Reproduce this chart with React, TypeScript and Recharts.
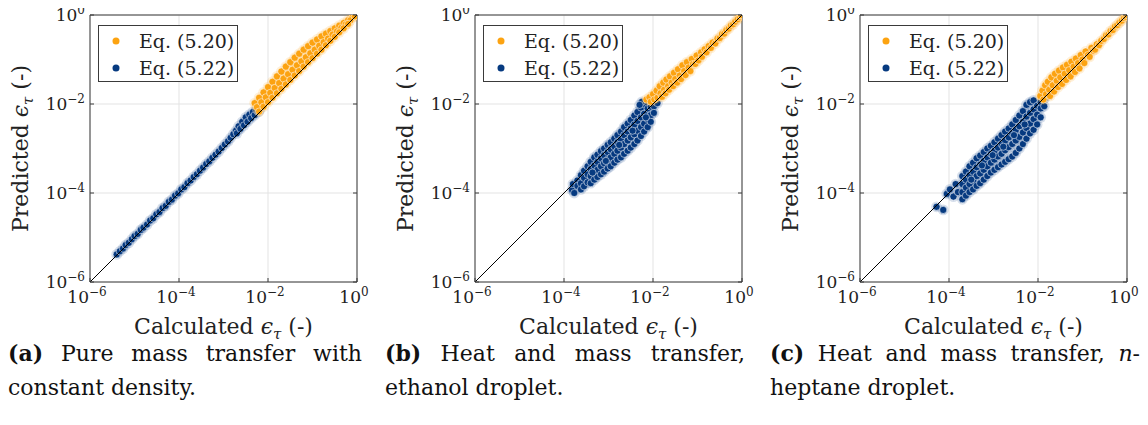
import { ScatterChart, Scatter, XAxis, YAxis, CartesianGrid, Legend } from "recharts"

const FONT = "'DejaVu Serif', serif"
const ORANGE = "#FCA311"
const NAVY = "#063A80"
const FRAME = "#3a3a3a"
const GRID = "#e3e3e3"

const decades = [1e-6, 1e-4, 1e-2, 1]
const tickExponents = ["\u22126", "\u22124", "\u22122", "0"]
const seriesNames = ["Eq. (5.20)", "Eq. (5.22)"]
const parity = [[-6, -6], [0, 0]]

// points are [log10 calculated, log10 predicted]

// (a) pure mass transfer
const massNavy = [
  [-5.40, -5.38], [-5.33, -5.31], [-5.26, -5.25], [-5.20, -5.17], [-5.13, -5.12], [-5.06, -5.04],
  [-5.00, -4.97], [-4.93, -4.92], [-4.86, -4.83], [-4.80, -4.78], [-4.72, -4.71], [-4.65, -4.62],
  [-4.58, -4.57], [-4.51, -4.48], [-4.44, -4.43], [-4.37, -4.34], [-4.30, -4.29], [-4.23, -4.20],
  [-4.16, -4.15], [-4.09, -4.06], [-4.02, -4.01], [-3.95, -3.92], [-3.88, -3.87], [-3.81, -3.78],
  [-3.74, -3.72], [-3.67, -3.64], [-3.60, -3.58], [-3.53, -3.50], [-3.46, -3.43], [-3.39, -3.35],
  [-3.32, -3.29], [-3.25, -3.21], [-3.18, -3.14], [-3.11, -3.07], [-3.04, -2.99], [-2.97, -2.91],
  [-2.90, -2.84], [-2.84, -2.76], [-2.78, -2.68], [-2.72, -2.60], [-2.70, -2.66], [-2.66, -2.50],
  [-2.62, -2.56], [-2.58, -2.40], [-2.54, -2.48], [-2.50, -2.30], [-2.46, -2.40], [-2.42, -2.24],
  [-2.38, -2.32], [-2.34, -2.18], [-2.30, -2.25], [-2.26, -2.14], [-2.22, -2.18], [-2.18, -2.12],
]
const massOrange = [
  [-2.30, -1.98], [-2.20, -1.86], [-2.10, -1.74], [-2.00, -1.62], [-1.90, -1.50], [-1.80, -1.38],
  [-1.70, -1.27], [-1.60, -1.16], [-1.50, -1.06], [-1.40, -0.96], [-1.30, -0.87], [-1.20, -0.78],
  [-1.10, -0.70], [-1.00, -0.62], [-0.90, -0.55], [-0.80, -0.48], [-0.70, -0.42], [-0.60, -0.36],
  [-0.50, -0.30], [-0.40, -0.24], [-0.30, -0.18], [-0.20, -0.12], [-0.10, -0.05], [0, 0],
  [-2.25, -2.07], [-2.15, -1.96], [-2.05, -1.85], [-1.95, -1.75], [-1.85, -1.64], [-1.75, -1.53],
  [-1.65, -1.43], [-1.55, -1.33], [-1.45, -1.23], [-1.35, -1.13], [-1.25, -1.04], [-1.15, -0.95],
  [-1.05, -0.86], [-0.95, -0.78], [-0.85, -0.69], [-0.75, -0.61], [-0.65, -0.53], [-0.55, -0.44],
  [-0.45, -0.37], [-0.35, -0.29], [-0.25, -0.21], [-0.15, -0.12], [-0.05, -0.03],
  [-2.20, -2.17], [-2.10, -2.06], [-2.00, -1.96], [-1.90, -1.86], [-1.80, -1.76], [-1.70, -1.66],
  [-1.60, -1.56], [-1.50, -1.46], [-1.40, -1.36], [-1.30, -1.26], [-1.20, -1.16], [-1.10, -1.06],
  [-1.00, -0.97], [-0.90, -0.87], [-0.80, -0.78], [-0.70, -0.68], [-0.60, -0.58], [-0.50, -0.49],
  [-0.40, -0.39], [-0.30, -0.30], [-0.20, -0.20],
]

// (b) ethanol droplet
const ethanolNavy = [
  [-3.82, -3.93], [-3.77, -4.00], [-3.80, -3.80], [-3.70, -3.72], [-3.70, -3.84],
  [-3.62, -3.60], [-3.62, -3.78], [-3.62, -3.92], [-3.55, -3.50], [-3.55, -3.66], [-3.55, -3.85],
  [-3.47, -3.40], [-3.47, -3.58], [-3.47, -3.76], [-3.40, -3.30], [-3.40, -3.46], [-3.40, -3.62], [-3.40, -3.78],
  [-3.32, -3.20], [-3.32, -3.38], [-3.32, -3.55], [-3.32, -3.70], [-3.25, -3.14], [-3.25, -3.30], [-3.25, -3.48], [-3.25, -3.64],
  [-3.17, -3.06], [-3.17, -3.22], [-3.17, -3.40], [-3.17, -3.58], [-3.10, -3.00], [-3.10, -3.15], [-3.10, -3.33], [-3.10, -3.52],
  [-3.02, -2.92], [-3.02, -3.08], [-3.02, -3.25], [-3.02, -3.45], [-2.95, -2.86], [-2.95, -3.02], [-2.95, -3.20], [-2.95, -3.40],
  [-2.87, -2.78], [-2.87, -2.95], [-2.87, -3.12], [-2.87, -3.32], [-2.80, -2.70], [-2.80, -2.86], [-2.80, -3.05], [-2.80, -3.25],
  [-2.72, -2.62], [-2.72, -2.80], [-2.72, -2.98], [-2.72, -3.20], [-2.65, -2.52], [-2.65, -2.70], [-2.65, -2.90], [-2.65, -3.12],
  [-2.57, -2.44], [-2.57, -2.62], [-2.57, -2.82], [-2.57, -3.05], [-2.50, -2.36], [-2.50, -2.55], [-2.50, -2.75], [-2.50, -2.98],
  [-2.42, -2.26], [-2.42, -2.46], [-2.42, -2.68], [-2.42, -2.90], [-2.35, -2.18], [-2.35, -2.38], [-2.35, -2.60], [-2.35, -2.82],
  [-2.27, -2.08], [-2.27, -2.30], [-2.27, -2.52], [-2.27, -2.72], [-2.20, -2.00], [-2.20, -2.22], [-2.20, -2.44], [-2.20, -2.62],
  [-2.12, -2.10], [-2.12, -2.34], [-2.12, -2.52], [-2.05, -2.06], [-2.05, -2.25], [-2.05, -2.40],
  [-1.98, -2.05], [-1.98, -2.20], [-1.90, -1.98], [-2.25, -1.95], [-2.30, -2.02],
  [-3.36, -3.54], [-3.06, -3.28], [-2.76, -2.92], [-2.46, -2.60], [-2.16, -2.30],
]
const ethanolOrange = [
  [-2.15, -1.90], [-2.08, -1.85], [-2.05, -1.95], [-2.00, -1.78], [-1.97, -1.90], [-1.92, -1.70],
  [-1.90, -1.86], [-1.85, -1.60], [-1.83, -1.76], [-1.80, -1.84], [-1.77, -1.52], [-1.75, -1.68],
  [-1.72, -1.76], [-1.70, -1.45], [-1.66, -1.60], [-1.64, -1.68], [-1.62, -1.38], [-1.58, -1.52],
  [-1.55, -1.60], [-1.53, -1.30], [-1.50, -1.44], [-1.46, -1.52], [-1.44, -1.22], [-1.40, -1.36],
  [-1.37, -1.44], [-1.34, -1.13], [-1.30, -1.26], [-1.27, -1.35], [-1.24, -1.06], [-1.20, -1.18],
  [-1.16, -1.26], [-1.13, -0.99], [-1.10, -1.10], [-1.05, -1.10], [-1.02, -0.91], [-0.98, -1.02],
  [-0.92, -0.84], [-0.90, -0.94], [-0.84, -0.77], [-0.80, -0.84], [-0.75, -0.70], [-0.70, -0.74],
  [-0.66, -0.62], [-0.60, -0.64], [-0.55, -0.53], [-0.50, -0.52], [-0.45, -0.43], [-0.40, -0.42],
  [-0.35, -0.34], [-0.30, -0.31], [-0.25, -0.24], [-0.20, -0.21], [-0.15, -0.15], [-0.10, -0.10],
  [-0.05, -0.05], [0, -0.02], [-0.02, 0],
]

// (c) n-heptane droplet
const heptaneNavy = [
  [-4.28, -4.31], [-4.13, -4.38], [-4.05, -4.02], [-3.98, -3.92], [-3.90, -4.08], [-3.85, -3.80], [-3.80, -3.98],
  [-3.70, -3.62], [-3.70, -3.80], [-3.70, -3.98], [-3.70, -4.14], [-3.62, -3.52], [-3.62, -3.70], [-3.62, -3.88], [-3.62, -4.06],
  [-3.54, -3.40], [-3.54, -3.60], [-3.54, -3.80], [-3.54, -3.98], [-3.46, -3.32], [-3.46, -3.52], [-3.46, -3.72], [-3.46, -3.92],
  [-3.38, -3.22], [-3.38, -3.42], [-3.38, -3.62], [-3.38, -3.84], [-3.30, -3.16], [-3.30, -3.36], [-3.30, -3.56], [-3.30, -3.78],
  [-3.22, -3.08], [-3.22, -3.28], [-3.22, -3.48], [-3.22, -3.70], [-3.14, -3.00], [-3.14, -3.20], [-3.14, -3.40], [-3.14, -3.62],
  [-3.06, -2.94], [-3.06, -3.12], [-3.06, -3.32], [-3.06, -3.54], [-2.98, -2.86], [-2.98, -3.05], [-2.98, -3.25], [-2.98, -3.48],
  [-2.90, -2.78], [-2.90, -2.98], [-2.90, -3.18], [-2.90, -3.42], [-2.82, -2.70], [-2.82, -2.90], [-2.82, -3.12], [-2.82, -3.36],
  [-2.74, -2.62], [-2.74, -2.82], [-2.74, -3.04], [-2.74, -3.30], [-2.66, -2.55], [-2.66, -2.75], [-2.66, -2.97], [-2.66, -3.24],
  [-2.58, -2.46], [-2.58, -2.66], [-2.58, -2.90], [-2.58, -3.18], [-2.50, -2.36], [-2.50, -2.58], [-2.50, -2.82], [-2.50, -3.10],
  [-2.42, -2.26], [-2.42, -2.50], [-2.42, -2.74], [-2.42, -3.00], [-2.34, -2.16], [-2.34, -2.40], [-2.34, -2.64], [-2.34, -2.90],
  [-2.26, -2.02], [-2.26, -2.28], [-2.26, -2.54], [-2.26, -2.78], [-2.18, -1.96], [-2.18, -2.20], [-2.18, -2.44], [-2.18, -2.66],
  [-2.10, -1.92], [-2.10, -2.12], [-2.10, -2.34], [-2.10, -2.58], [-2.02, -2.04], [-2.02, -2.24], [-2.02, -2.46],
  [-1.94, -1.96], [-1.94, -2.10], [-1.94, -2.30], [-1.86, -1.88], [-1.86, -2.05], [-1.78, -1.80],
  [-3.50, -3.70], [-3.26, -3.38], [-3.02, -3.15], [-2.78, -2.96], [-2.54, -2.70], [-2.30, -2.46],
]
const heptaneOrange = [
  [-1.95, -1.82], [-1.90, -1.70], [-1.88, -1.90], [-1.84, -1.58], [-1.82, -1.78], [-1.78, -1.50],
  [-1.75, -1.68], [-1.73, -1.82], [-1.70, -1.40], [-1.67, -1.58], [-1.64, -1.72], [-1.62, -1.32],
  [-1.58, -1.48], [-1.55, -1.62], [-1.53, -1.25], [-1.50, -1.40], [-1.46, -1.55], [-1.44, -1.18],
  [-1.40, -1.32], [-1.37, -1.46], [-1.35, -1.12], [-1.30, -1.24], [-1.27, -1.38], [-1.25, -1.05],
  [-1.20, -1.16], [-1.17, -1.28], [-1.15, -0.98], [-1.10, -1.08], [-1.07, -1.20], [-1.04, -0.90],
  [-1.00, -1.00], [-0.96, -1.08], [-0.93, -0.82], [-0.88, -0.90], [-0.84, -0.94], [-0.80, -0.74],
  [-0.76, -0.80], [-0.72, -0.78], [-0.68, -0.66], [-0.63, -0.68], [-0.58, -0.58], [-0.52, -0.54],
  [-0.47, -0.46], [-0.42, -0.44], [-0.37, -0.36], [-0.32, -0.34], [-0.27, -0.26], [-0.22, -0.23],
  [-0.17, -0.17], [-0.12, -0.13], [-0.07, -0.07], [-0.03, -0.04], [0, 0],
]

const toPoints = (pts: number[][]) => pts.map(([lx, ly]) => ({ x: 10 ** lx, y: 10 ** ly }))

// solid marker with a white edge and a faint halo, like the overlapping markers in the figure
const dot = (color: string) => (p: any) => (
  <g>
    <circle cx={p.cx} cy={p.cy} r={5.4} fill={color} fillOpacity={0.16} />
    <circle cx={p.cx} cy={p.cy} r={3.6} fill={color} stroke="#ffffff" strokeOpacity={0.6} strokeWidth={0.9} />
  </g>
)
const noDot = () => <g />

function BottomTick({ x, y, index }: any) {
  return (
    <g>
      <line x1={x} y1={y} x2={x} y2={y - 4} stroke={FRAME} />
      <text x={x - 3} y={y + 21} textAnchor="middle" fontFamily={FONT} fontSize={17} fill="#222">
        10<tspan dy={-7} fontSize={12}>{tickExponents[index]}</tspan>
      </text>
    </g>
  )
}

function LeftTick({ x, y, index }: any) {
  return (
    <g>
      <line x1={x} y1={y} x2={x + 4} y2={y} stroke={FRAME} />
      <text x={x - 5} y={y + 6} textAnchor="end" fontFamily={FONT} fontSize={17} fill="#222">
        10<tspan dy={-7} fontSize={12}>{tickExponents[index]}</tspan>
      </text>
    </g>
  )
}

const TopTick = ({ x, y }: any) => <line x1={x} y1={y} x2={x} y2={y + 4} stroke={FRAME} />
const RightTick = ({ x, y }: any) => <line x1={x} y1={y} x2={x - 4} y2={y} stroke={FRAME} />

const Epsilon = () => (
  <>
    <tspan fontStyle="italic">{"\u03f5"}</tspan>
    <tspan dy={5} fontSize={15} fontStyle="italic">{"\u03c4"}</tspan>
    <tspan dy={-5}> (-)</tspan>
  </>
)

const xTitle = ({ viewBox }: any) => (
  <text x={viewBox.x + viewBox.width / 2} y={viewBox.y + 52} textAnchor="middle" fontFamily={FONT} fontSize={22} fill="#222">
    Calculated <Epsilon />
  </text>
)

const yTitle = ({ viewBox }: any) => {
  const cx = viewBox.x + viewBox.width - 62
  const cy = viewBox.y + viewBox.height / 2
  return (
    <text x={cx} y={cy} transform={`rotate(-90 ${cx} ${cy})`} textAnchor="middle" fontFamily={FONT} fontSize={22} fill="#222">
      Predicted <Epsilon />
    </text>
  )
}

const legendColors = [ORANGE, NAVY]
const renderLegend = () => (
  <div style={{ width: 140, height: 57, boxSizing: "border-box", border: `1px solid ${FRAME}`, background: "#fff", position: "relative", fontFamily: FONT, fontSize: 19, color: "#222" }}>
    {seriesNames.map((name, i) => (
      <div key={name} style={{ position: "absolute", left: 0, top: i === 0 ? 3 : 30, height: 24, display: "flex", alignItems: "center", whiteSpace: "nowrap" }}>
        <svg width={34} height={24} style={{ display: "block" }}>
          <circle cx={17} cy={12} r={3.5} fill={legendColors[i]} />
        </svg>
        <span style={{ marginLeft: 6 }}>{name}</span>
      </div>
    ))}
  </div>
)

// chart top sits 10px above the page so the 10^0 label has head room
function Panel({ left, width, right, navy, orange }: { left: number; width: number; right: number; navy: number[][]; orange: number[][] }) {
  return (
    <div style={{ position: "absolute", left, top: -10 }}>
      <ScatterChart width={width} height={355} margin={{ top: 24, right, bottom: 18, left: 30 }} style={{ overflow: "visible" }}>
        <CartesianGrid stroke={GRID} />
        <XAxis
          dataKey="x" type="number" scale="log" domain={[1e-6, 1]} ticks={decades} allowDataOverflow interval={0}
          height={45} tickSize={0} tickMargin={0} axisLine={{ stroke: FRAME }} tick={<BottomTick />} label={{ content: xTitle }}
        />
        <YAxis
          dataKey="y" type="number" scale="log" domain={[1e-6, 1]} ticks={decades} allowDataOverflow interval={0}
          width={60} tickSize={0} tickMargin={0} axisLine={{ stroke: FRAME }} tick={<LeftTick />} label={{ content: yTitle }}
        />
        <XAxis
          xAxisId="top" orientation="top" type="number" scale="log" domain={[1e-6, 1]} ticks={decades} allowDataOverflow interval={0}
          height={1} tickSize={0} tickMargin={0} axisLine={{ stroke: FRAME }} tick={<TopTick />}
        />
        <YAxis
          yAxisId="right" orientation="right" type="number" scale="log" domain={[1e-6, 1]} ticks={decades} allowDataOverflow interval={0}
          width={1} tickSize={0} tickMargin={0} axisLine={{ stroke: FRAME }} tick={<RightTick />}
        />
        <Scatter name={seriesNames[1]} data={toPoints(navy)} shape={dot(NAVY)} isAnimationActive={false} />
        <Scatter name={seriesNames[0]} data={toPoints(orange)} shape={dot(ORANGE)} isAnimationActive={false} />
        <Scatter name="parity" data={toPoints(parity)} shape={noDot} line={{ stroke: "#000", strokeWidth: 1 }} isAnimationActive={false} />
        <Legend layout="vertical" align="center" verticalAlign="middle" content={renderLegend} wrapperStyle={{ left: 98, top: 35, width: 140, height: 57 }} />
      </ScatterChart>
    </div>
  )
}

const captionStyle: React.CSSProperties = {
  position: "absolute", top: 336, fontFamily: FONT, fontSize: 22, lineHeight: "34px", color: "#111",
}
const firstLine: React.CSSProperties = { textAlign: "justify", textAlignLast: "justify" as any }

export default function App() {
  return (
    <div style={{ position: "relative", margin: -8, width: 1148, height: 425, overflow: "hidden", background: "#fff" }}>
      <Panel left={0} width={380} right={22} navy={massNavy} orange={massOrange} />
      <Panel left={385} width={380} right={22} navy={ethanolNavy} orange={ethanolOrange} />
      <Panel left={770} width={375} right={17} navy={heptaneNavy} orange={heptaneOrange} />

      <div style={{ ...captionStyle, left: 8, width: 354 }}>
        <div style={firstLine}><b>(a)</b> Pure mass transfer with</div>
        <div>constant density.</div>
      </div>
      <div style={{ ...captionStyle, left: 385, width: 360 }}>
        <div style={firstLine}><b>(b)</b> Heat and mass transfer,</div>
        <div>ethanol droplet.</div>
      </div>
      <div style={{ ...captionStyle, left: 770, width: 370 }}>
        <div style={firstLine}><b>(c)</b> Heat and mass transfer, <i>n</i>-</div>
        <div>heptane droplet.</div>
      </div>
    </div>
  )
}
